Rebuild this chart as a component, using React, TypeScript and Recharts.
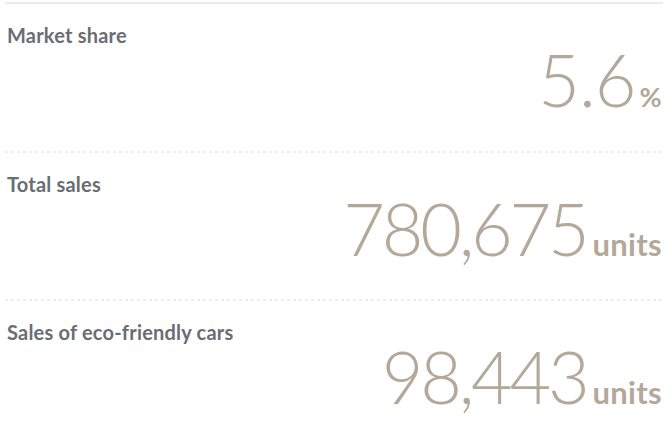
import { Surface, Layer } from 'recharts';

const labels = ['Market share', 'Total sales', 'Sales of eco-friendly cars'];
const values = ['5.6', '780,675', '98,443'];
const units = ['%', 'units', 'units'];

const W = 670;
const H = 447;
const ROW = 148;
const LEFT = 5;
const RIGHT = 663;

export default function App() {
  return (
    <div style={{ position: 'absolute', left: 0, top: 0, width: W, height: H, background: '#fff' }}>
      <Surface width={W} height={H}>
        {labels.map((label, i) => {
          const top = 3 + i * ROW + (i > 0 ? 1 : 0);
          const pct = units[i] === '%';
          return (
            <Layer key={label}>
              <line
                x1={LEFT}
                x2={RIGHT}
                y1={top}
                y2={top}
                stroke={i === 0 ? '#d9d6d2' : '#dcdcdc'}
                strokeWidth={1}
                strokeDasharray={i === 0 ? undefined : '3 3'}
              />
              <text
                x={7}
                y={top + 40}
                fontFamily="Lato, 'Noto Sans', sans-serif"
                fontWeight={700}
                fontSize={20}
                letterSpacing={0.2}
                fill="#6a6d71"
              >
                {label}
              </text>
              <text
                x={662}
                y={top + 104}
                textAnchor="end"
                fontFamily="Lato, 'Open Sans', sans-serif"
                fontWeight={300}
                fill="#b3a899"
              >
                <tspan fontSize={72} letterSpacing={pct ? -1 : -3.3}>{values[i]}</tspan>
                <tspan fontSize={pct ? 27 : 31} fontWeight={700} letterSpacing={0.3} dx={pct ? 4 : 6}>
                  {units[i]}
                </tspan>
              </text>
            </Layer>
          );
        })}
      </Surface>
    </div>
  );
}
